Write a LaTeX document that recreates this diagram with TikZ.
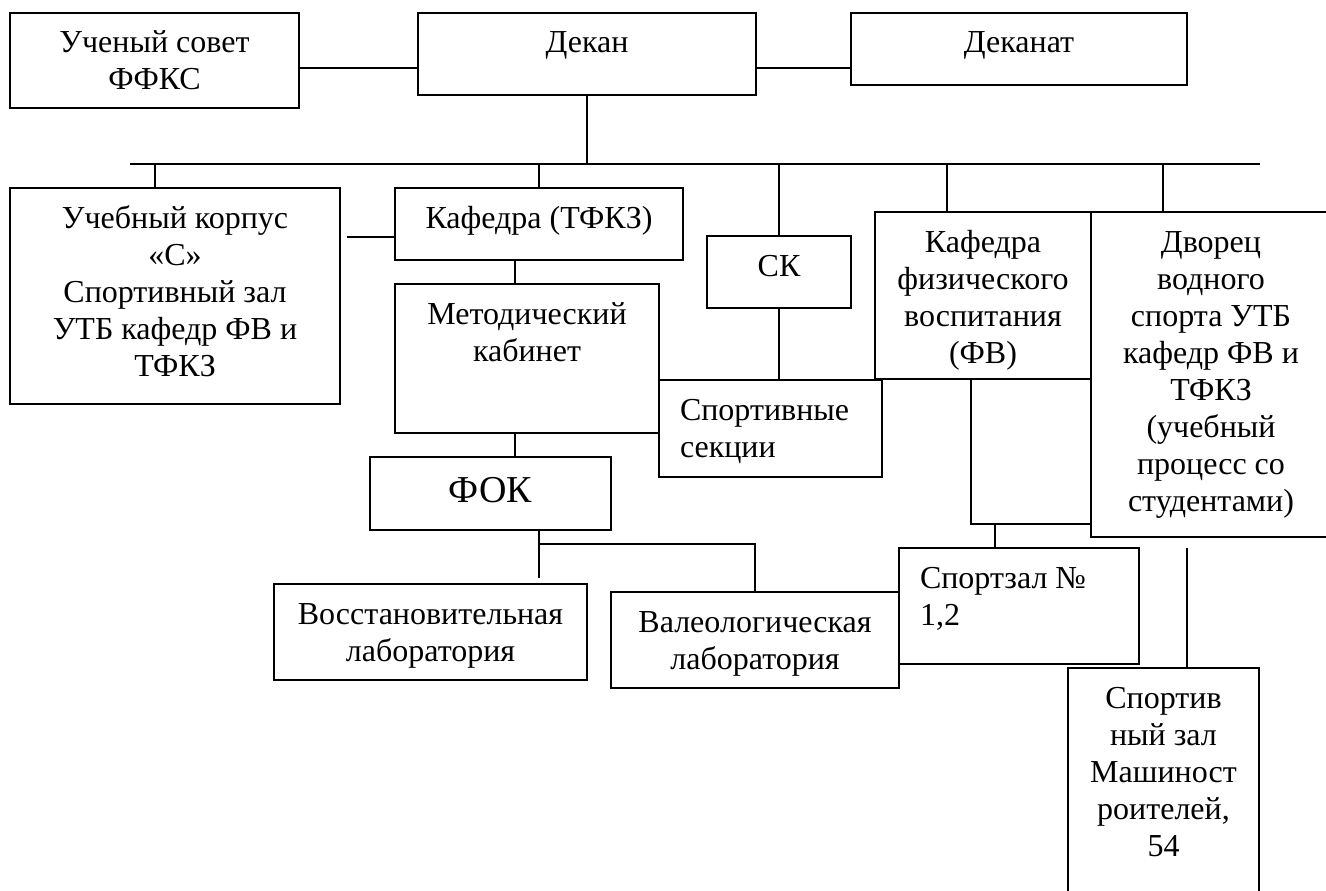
\documentclass[tikz,border=0pt]{standalone}
\usepackage{fontspec}
\setmainfont{Liberation Serif}
\newcommand{\mybx}[4]{\parbox[t][#2pt][t]{#1pt}{#3\rule{0pt}{40pt}#4}}
\newcommand{\mybxf}[4]{\parbox[t][#2pt][t]{#1pt}{#3\rule{0pt}{45pt}#4}}
\begin{document}
\begin{tikzpicture}[x=1pt,y=-1pt,
  font=\fontsize{32}{37}\selectfont,
  boxn/.style={draw, line width=2pt, inner sep=0pt, outer sep=0pt, anchor=north west},
  conn/.style={line width=2pt}]
\useasboundingbox (0,0) rectangle (1326,891);
% boxes
\node[boxn] (uch) at (10,13) {\mybx{289}{95}{\centering}{Ученый совет\\ФФКС}};
\node[boxn] (dekan) at (418,13) {\mybx{338}{82}{\centering}{Декан}};
\node[boxn] (dekanat) at (851,13) {\mybx{336}{72}{\centering}{Деканат}};
\node[boxn] (korpus) at (10,188) {\mybx{330}{216}{\centering}{Учебный корпус\\«С»\\Спортивный зал\\УТБ кафедр ФВ и\\ТФКЗ}};
\node[boxn] (tfkz) at (395,188) {\mybx{288}{72}{\centering}{Кафедра (ТФКЗ)}};
\node[boxn] (sk) at (707,236) {\mybx{144}{72}{\centering}{СК}};
\node[boxn] (metod) at (395,284) {\mybx{264}{149}{\centering}{Методический\\кабинет}};
\node[boxn] (fv) at (875,212) {\mybx{216}{167}{\centering}{Кафедра\\физического\\воспитания\\(ФВ)}};
\node[boxn] (dvorets) at (1091,212) {\mybx{240}{325}{\centering}{Дворец\\водного\\спорта УТБ\\кафедр ФВ и\\ТФКЗ\\(учебный\\процесс со\\студентами)}};
\node[boxn] (sekcii) at (659,380) {\mybx{223}{97}{\raggedright\leftskip=21pt\relax}{Спортивные\\секции}};
\node[boxn] (fok) at (370,457) {\mybxf{241}{73}{\centering\fontsize{38}{44}\selectfont}{ФОК}};
\node[boxn] (vosst) at (274,584) {\mybx{313}{96}{\centering}{Восстановительная\\лаборатория}};
\node[boxn] (valeo) at (611,592) {\mybx{288}{96}{\centering}{Валеологическая\\лаборатория}};
\node[boxn] (sportzal) at (899,548) {\mybx{240}{116}{\raggedright\leftskip=21pt\relax}{Спортзал №\\1,2}};
\node[boxn] (mash) at (1068,668) {\mybx{191}{240}{\centering}{Спортив\\ный зал\\Машиност\\роителей,\\54}};
% connectors
\coordinate (l1) at (0,68);
\draw[conn] (uch.east |- l1) -- (dekan.west |- l1);
\draw[conn] (dekan.east |- l1) -- (dekanat.west |- l1);
\coordinate (busL) at (130,164);
\coordinate (busR) at (1260,164);
\draw[conn] (busL) -- (busR);
\draw[conn] (dekan.south) -- (dekan.south |- busL);
\coordinate (t1) at (155,164);
\draw[conn] (t1) -- (t1 |- korpus.north);
\draw[conn] (tfkz.north |- busL) -- (tfkz.north);
\draw[conn] (sk.north |- busL) -- (sk.north);
\coordinate (t4) at (947,164);
\draw[conn] (t4) -- (t4 |- fv.north);
\coordinate (t5) at (1163,164);
\draw[conn] (t5) -- (t5 |- dvorets.north);
\coordinate (k1) at (347,237);
\draw[conn] (k1) -- (k1 -| tfkz.west);
\coordinate (m1) at (515,0);
\draw[conn] (m1 |- tfkz.south) -- (m1 |- metod.north);
\draw[conn] (m1 |- metod.south) -- (m1 |- fok.north);
\draw[conn] (sk.south) -- (sk.south |- sekcii.north);
\coordinate (f1) at (539,578);
\coordinate (f2) at (0,544);
\draw[conn] (f1 |- fok.south) -- (f1);
\draw[conn] (f1 |- f2) -- (valeo.north |- f2) -- (valeo.north);
\coordinate (s1) at (971,524);
\draw[conn] (s1 |- fv.south) -- (s1) -- (s1 -| dvorets.west);
\coordinate (s2) at (995,524);
\draw[conn] (s2) -- (s2 |- sportzal.north);
\coordinate (d1) at (1187,548);
\draw[conn] (d1) -- (d1 |- mash.north);
\end{tikzpicture}
\end{document}
